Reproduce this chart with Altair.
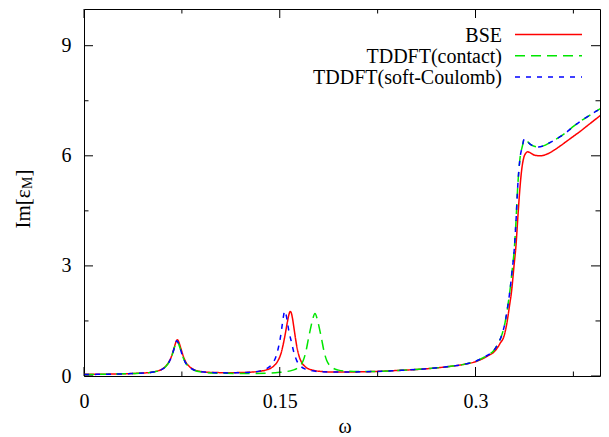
import altair as alt
import pandas as pd

FONT = "Liberation Serif"

series_names = ["BSE", "TDDFT(contact)", "TDDFT(soft-Coulomb)"]
series_colors = ["#ff0000", "#00e600", "#0000ff"]
series_dashes = [[1, 0], [10, 6], [5, 6]]

x_ticks = [0, 0.15, 0.3]
x_minor = [0.075, 0.225, 0.375]
y_ticks = [0, 3, 6, 9]
y_minor = [1.5, 4.5, 7.5]

w_bse = [0.000, 0.010, 0.020, 0.030, 0.040, 0.050, 0.055, 0.060, 0.063, 0.065, 0.067, 0.069,
         0.0705, 0.0715, 0.0725, 0.074, 0.076, 0.078, 0.081, 0.085, 0.090, 0.100, 0.110, 0.120,
         0.130, 0.140, 0.145, 0.148, 0.151, 0.153, 0.155, 0.156, 0.157, 0.158, 0.159, 0.160,
         0.161, 0.162, 0.163, 0.165, 0.167, 0.170, 0.175, 0.180, 0.190, 0.200, 0.220, 0.240,
         0.260, 0.280, 0.290, 0.300, 0.306, 0.310, 0.314, 0.317, 0.319, 0.3215, 0.324, 0.326,
         0.3277, 0.3295, 0.331, 0.3325, 0.334, 0.3355, 0.337, 0.3385, 0.340, 0.342, 0.345,
         0.3495, 0.355, 0.360, 0.365, 0.370, 0.375, 0.380, 0.385, 0.390, 0.395, 0.400]
v_bse = [0.045, 0.048, 0.052, 0.060, 0.072, 0.095, 0.125, 0.19, 0.28, 0.38, 0.53, 0.76,
         0.93, 0.99, 0.94, 0.78, 0.55, 0.38, 0.25, 0.16, 0.12, 0.095, 0.09, 0.095,
         0.11, 0.17, 0.26, 0.38, 0.62, 0.92, 1.30, 1.50, 1.67, 1.76, 1.70, 1.52,
         1.28, 1.04, 0.82, 0.52, 0.36, 0.24, 0.16, 0.13, 0.11, 0.11, 0.12, 0.15,
         0.19, 0.26, 0.31, 0.39, 0.48, 0.56, 0.65, 0.78, 0.90, 1.05, 1.43, 1.90,
         2.33, 3.0, 3.55, 4.35, 5.1, 5.65, 5.95, 6.07, 6.11, 6.08, 6.02,
         6.00, 6.05, 6.15, 6.27, 6.40, 6.53, 6.66, 6.80, 6.94, 7.08, 7.22]

w_sc = [0.000, 0.010, 0.020, 0.030, 0.040, 0.050, 0.055, 0.060, 0.063, 0.065, 0.067, 0.069,
        0.070, 0.071, 0.072, 0.0735, 0.0755, 0.0775, 0.0805, 0.085, 0.090, 0.100, 0.110,
        0.120, 0.130, 0.135, 0.140, 0.143, 0.145, 0.147, 0.149, 0.1505, 0.152, 0.153,
        0.1537, 0.1545, 0.1555, 0.157, 0.159, 0.161, 0.163, 0.166, 0.170, 0.175, 0.180,
        0.190, 0.200, 0.220, 0.240, 0.260, 0.280, 0.290, 0.300]
v_sc = [0.04, 0.045, 0.05, 0.058, 0.07, 0.092, 0.12, 0.185, 0.27, 0.37, 0.52, 0.74,
        0.86, 0.96, 0.92, 0.77, 0.55, 0.38, 0.25, 0.155, 0.115, 0.09, 0.085,
        0.09, 0.11, 0.14, 0.20, 0.28, 0.37, 0.52, 0.78, 1.05, 1.42, 1.66,
        1.77, 1.72, 1.55, 1.22, 0.92, 0.62, 0.42, 0.27, 0.18, 0.14, 0.12,
        0.11, 0.11, 0.12, 0.15, 0.19, 0.26, 0.31, 0.40]

w_ct = [0.000, 0.010, 0.020, 0.030, 0.040, 0.050, 0.055, 0.060, 0.063, 0.065, 0.067, 0.069,
        0.070, 0.071, 0.072, 0.0735, 0.0755, 0.0775, 0.0805, 0.085, 0.090, 0.100, 0.110,
        0.120, 0.130, 0.140, 0.150, 0.155, 0.160, 0.163, 0.1655, 0.168, 0.170, 0.172,
        0.174, 0.1755, 0.177, 0.1785, 0.180, 0.182, 0.184, 0.186, 0.1885, 0.191, 0.195,
        0.200, 0.210, 0.220, 0.240, 0.260, 0.280, 0.290, 0.300]
v_ct = [0.04, 0.045, 0.05, 0.058, 0.07, 0.092, 0.12, 0.185, 0.27, 0.37, 0.52, 0.74,
        0.86, 0.95, 0.92, 0.77, 0.55, 0.38, 0.25, 0.15, 0.11, 0.08, 0.072,
        0.07, 0.07, 0.075, 0.10, 0.12, 0.16, 0.20, 0.27, 0.42, 0.66, 1.02,
        1.36, 1.58, 1.70, 1.58, 1.36, 1.02, 0.66, 0.42, 0.28, 0.21, 0.16,
        0.135, 0.12, 0.12, 0.15, 0.19, 0.26, 0.31, 0.40]

# absorption edge shared by both TDDFT kernels
w_edge_tddft = [0.306, 0.310, 0.3137, 0.3175, 0.320, 0.3226, 0.3245, 0.3264, 0.328, 0.3297,
                0.331, 0.3323, 0.334, 0.3359, 0.3374, 0.339, 0.3418, 0.345, 0.3481, 0.352,
                0.357, 0.3648, 0.370, 0.375, 0.380, 0.385, 0.390, 0.395, 0.400]
v_edge_tddft = [0.50, 0.58, 0.68, 0.90, 1.10, 1.45, 1.85, 2.33, 2.85, 3.45,
                4.20, 5.13, 5.90, 6.26, 6.46, 6.42, 6.32, 6.26, 6.24, 6.27,
                6.36, 6.52, 6.65, 6.80, 6.93, 7.05, 7.16, 7.27, 7.38]

W, H = 516, 367
X_MAX = 0.3954  # visible part of the omega range in this window

xscale = alt.Scale(domain=[0, X_MAX], nice=False, zero=False)
yscale = alt.Scale(domain=[0, 10], nice=False, zero=False)
xaxis = alt.Axis(values=x_ticks, format=".2~f", ticks=False, domain=False, grid=False,
                 labelFont=FONT, labelFontSize=20, labelColor="black", labelPadding=15,
                 labelFlush=False, title=None)
yaxis = alt.Axis(values=y_ticks, format="d", ticks=False, domain=False, grid=False,
                 labelFont=FONT, labelFontSize=20, labelColor="black", labelPadding=13,
                 title=None)


def line_layer(w, v, name, color, dash):
    df = pd.DataFrame({"omega": w, "value": v, "series": name})
    return alt.Chart(df).mark_line(color=color, strokeDash=dash, strokeWidth=1.5,
                                   interpolate="monotone", clip=True).encode(
        x=alt.X("omega:Q", scale=xscale, axis=xaxis),
        y=alt.Y("value:Q", scale=yscale, axis=yaxis),
    )


layers = [
    line_layer(w_bse, v_bse, series_names[0], series_colors[0], series_dashes[0]),
    line_layer(w_ct + w_edge_tddft, v_ct + v_edge_tddft, series_names[1], series_colors[1], series_dashes[1]),
    line_layer(w_sc + w_edge_tddft, v_sc + v_edge_tddft, series_names[2], series_colors[2], series_dashes[2]),
]

# inward ticks on all four sides
for vals, length in ((x_ticks, 9), (x_minor, 4.5)):
    tdf = pd.DataFrame({"t": vals})
    layers.append(alt.Chart(tdf).mark_rule(color="black", strokeWidth=1).encode(
        x=alt.X("t:Q", scale=xscale, axis=xaxis), y=alt.value(H), y2=alt.value(H - length)))
    layers.append(alt.Chart(tdf).mark_rule(color="black", strokeWidth=1).encode(
        x=alt.X("t:Q", scale=xscale, axis=xaxis), y=alt.value(0), y2=alt.value(length)))
for vals, length in ((y_ticks, 9), (y_minor, 4.5)):
    tdf = pd.DataFrame({"t": vals})
    layers.append(alt.Chart(tdf).mark_rule(color="black", strokeWidth=1).encode(
        y=alt.Y("t:Q", scale=yscale, axis=yaxis), x=alt.value(0), x2=alt.value(length)))
    layers.append(alt.Chart(tdf).mark_rule(color="black", strokeWidth=1).encode(
        y=alt.Y("t:Q", scale=yscale, axis=yaxis), x=alt.value(W - length), x2=alt.value(W)))

one = pd.DataFrame({"a": [0]})

# legend (gnuplot style: label right-aligned, sample to the right)
for i, (name, color, dash) in enumerate(zip(series_names, series_colors, series_dashes)):
    ly = 25.5 + 21.2 * i
    layers.append(alt.Chart(one).mark_text(text=name, font=FONT, fontSize=20, color="black",
                                           align="right", baseline="alphabetic").encode(
        x=alt.value(418), y=alt.value(ly + 7)))
    layers.append(alt.Chart(one).mark_rule(color=color, strokeDash=dash, strokeWidth=1.5).encode(
        x=alt.value(431), x2=alt.value(498), y=alt.value(ly)))

# axis titles
layers.append(alt.Chart(one).mark_text(text="ω", font=FONT, fontSize=20, color="black",
                                       align="center", baseline="alphabetic").encode(
    x=alt.value(261), y=alt.value(424)))
layers.append(alt.Chart(one).mark_text(text="Im[ε", font=FONT, fontSize=21, color="black",
                                       align="left", baseline="alphabetic", angle=270).encode(
    x=alt.value(-54.5), y=alt.value(219.5)))
layers.append(alt.Chart(one).mark_text(text="M", font=FONT, fontSize=14, color="black",
                                       align="left", baseline="alphabetic", angle=270).encode(
    x=alt.value(-52.5), y=alt.value(180)))
layers.append(alt.Chart(one).mark_text(text="]", font=FONT, fontSize=21, color="black",
                                       align="left", baseline="alphabetic", angle=270).encode(
    x=alt.value(-54.5), y=alt.value(167.5)))

chart = alt.layer(*layers).properties(
    width=W, height=H,
    autosize=alt.AutoSizeParams(type="none"),
    padding={"left": 76, "top": 1, "right": 1, "bottom": 60},
).configure_view(stroke="black", strokeWidth=1)

chart.save("out.html", embed_options={"renderer": "svg", "actions": False})
